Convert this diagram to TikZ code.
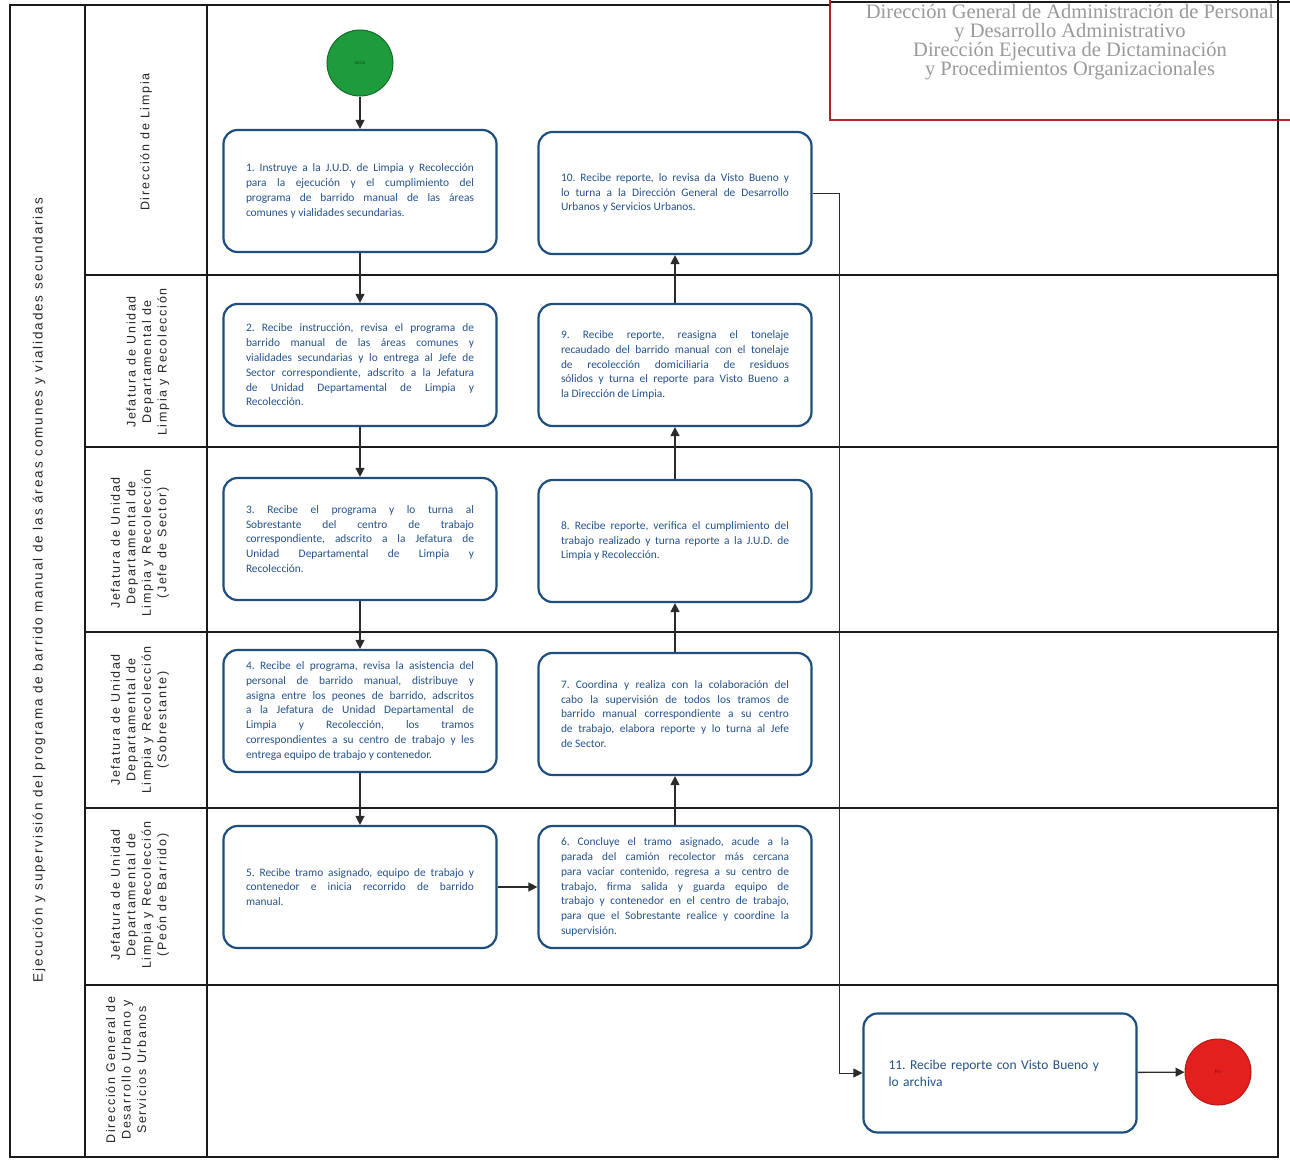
\documentclass[tikz,border=0pt]{standalone}
\usepackage{fontspec}
\setmainfont{Carlito}
\newfontfamily\lanefont[LetterSpace=14]{Liberation Sans}
\newfontfamily\poolfont[LetterSpace=14]{Liberation Sans}
\newfontfamily\headfont{Liberation Serif}
\usetikzlibrary{arrows.meta}
\definecolor{boxline}{HTML}{1D4E7E}
\definecolor{boxtext}{HTML}{24528A}
\definecolor{arrowc}{HTML}{2B2B2B}
\definecolor{framec}{HTML}{1A1A1A}
\definecolor{headred}{HTML}{B0202A}
\definecolor{headtext}{HTML}{9A9A9A}
\definecolor{startg}{HTML}{1E9B3C}
\definecolor{endr}{HTML}{E3201E}
\hyphenpenalty=10000
\exhyphenpenalty=10000
\tolerance=9999
\hbadness=10000
\frenchspacing
\newcommand{\lb}{\linebreak}
\begin{document}
\begin{tikzpicture}[x=1pt,y=-1pt,
  proc/.style={draw=boxline, line width=2.2pt, rounded corners=14pt, fill=white,
    minimum width=273pt, minimum height=122pt, text width=228pt, align=justify,
    font=\fontsize{11.4}{14.8}\selectfont, text=boxtext, inner sep=0pt},
  lanelbl/.style={rotate=90, align=center, font=\lanefont\fontsize{12.5}{15.5}\selectfont, text=black!85},
  flow/.style={-{Triangle[length=9pt,width=9pt]}, line width=1.3pt, draw=arrowc},
  thinflow/.style={-{Triangle[length=9pt,width=9pt]}, line width=0.8pt, draw=arrowc},
  frame/.style={draw=framec, line width=1.6pt}]
\useasboundingbox (0,0) rectangle (1290,1159);
\fill[white] (0,0) rectangle (1290,1159);

% frame and lanes
\draw[frame] (10,5) rectangle (1278,1157);
\draw[frame] (85,5) -- (85,1157);
\draw[frame] (207,5) -- (207,1157);
\foreach \yy in {275,447,632,808,985} {\draw[frame] (85,\yy) -- (1278,\yy);}

% header box
\fill[white] (830,0) rectangle (1290,120);
\draw[framec, line width=1.4pt] (830,2) -- (1290,2);
\draw[headred, line width=1.4pt] (830,0) -- (830,120) -- (1290,120);
\draw[frame] (1278,0) -- (1278,120);
\node[font=\headfont\fontsize{20.5}{19}\selectfont, text=headtext, align=center] (head) at (1070,42)
  {Dirección General de Administración de Personal\\y Desarrollo Administrativo\\Dirección Ejecutiva de Dictaminación\\y Procedimientos Organizacionales};

% pool title
\node[rotate=90, font=\poolfont\fontsize{13.5}{16}\selectfont, text=black!85] (pool) at (39,590)
  {Ejecución y supervisión del programa de barrido manual de las áreas comunes y vialidades secundarias};

% lane labels
\node[lanelbl] (l1) at (146,142) {Dirección de Limpia};
\node[lanelbl] (l2) at (148,362) {Jefatura de Unidad\\Departamental de\\Limpia y Recolección};
\node[lanelbl] (l3) at (140,543) {Jefatura de Unidad\\Departamental de\\Limpia y Recolección\\(Jefe de Sector)};
\node[lanelbl] (l4) at (140,720) {Jefatura de Unidad\\Departamental de\\Limpia y Recolección\\(Sobrestante)};
\node[lanelbl] (l5) at (140,895) {Jefatura de Unidad\\Departamental de\\Limpia y Recolección\\(Peón de Barrido)};
\node[lanelbl] (l6) at (126,1070) {Dirección General de\\Desarrollo Urbano y\\Servicios Urbanos};

% start / end
\node[circle, minimum size=66pt, inner sep=0pt, fill=startg, draw=startg!70!black, line width=1pt,
  font=\fontsize{5}{6}\selectfont, text=startg!50!black] (start) at (360,63) {Inicio};
\node[circle, minimum size=66pt, inner sep=0pt, fill=endr, draw=endr!80!black, line width=1pt,
  font=\fontsize{5}{6}\selectfont, text=endr!50!black] (fin) at (1218,1072) {Fin};

% process boxes
\node[proc] (b1) at (360,191) {1. Instruye a la J.U.D. de Limpia y Recolección\lb para la ejecución y el cumplimiento del\lb programa de barrido manual de las áreas\lb comunes y vialidades secundarias.};
\node[proc] (b10) at (675,193) {10. Recibe reporte, lo revisa da Visto Bueno y\lb lo turna a la Dirección General de Desarrollo\lb Urbanos y Servicios Urbanos.};
\node[proc] (b2) at (360,365) {2. Recibe instrucción, revisa el programa de\lb barrido manual de las áreas comunes y\lb vialidades secundarias y lo entrega al Jefe de\lb Sector correspondiente, adscrito a la Jefatura\lb de Unidad Departamental de Limpia y\lb Recolección.};
\node[proc] (b9) at (675,365) {9. Recibe reporte, reasigna el tonelaje\lb recaudado del barrido manual con el tonelaje\lb de recolección domiciliaria de residuos\lb sólidos y turna el reporte para Visto Bueno a\lb la Dirección de Limpia.};
\node[proc] (b3) at (360,539) {3. Recibe el programa y lo turna al\lb Sobrestante del centro de trabajo\lb correspondiente, adscrito a la Jefatura de\lb Unidad Departamental de Limpia y\lb Recolección.};
\node[proc] (b8) at (675,541) {8. Recibe reporte, verifica el cumplimiento del\lb trabajo realizado y turna reporte a la J.U.D. de\lb Limpia y Recolección.};
\node[proc] (b4) at (360,711) {4. Recibe el programa, revisa la asistencia del\lb personal de barrido manual, distribuye y\lb asigna entre los peones de barrido, adscritos\lb a la Jefatura de Unidad Departamental de\lb Limpia y Recolección, los tramos\lb correspondientes a su centro de trabajo y les\lb entrega equipo de trabajo y contenedor.};
\node[proc] (b7) at (675,714) {7. Coordina y realiza con la colaboración del\lb cabo la supervisión de todos los tramos de\lb barrido manual correspondiente a su centro\lb de trabajo, elabora reporte y lo turna al Jefe\lb de Sector.};
\node[proc] (b5) at (360,887) {5. Recibe tramo asignado, equipo de trabajo y\lb contenedor e inicia recorrido de barrido\lb manual.};
\node[proc] (b6) at (675,887) {6. Concluye el tramo asignado, acude a la\lb parada del camión recolector más cercana\lb para vaciar contenido, regresa a su centro de\lb trabajo, firma salida y guarda equipo de\lb trabajo y contenedor en el centro de trabajo,\lb para que el Sobrestante realice y coordine la\lb supervisión.};
\node[proc, minimum height=119pt, text width=223pt, align=left, font=\fontsize{13.5}{17}\selectfont] (b11) at (1000,1073) {11. Recibe reporte con Visto Bueno y\\lo archiva};

% connectors
\draw[flow] (start) -- (b1);
\draw[flow] (b1) -- (b2);
\draw[flow] (b2) -- (b3);
\draw[flow] (b3) -- (b4);
\draw[flow] (b4) -- (b5);
\draw[flow] (b5) -- (b6);
\draw[flow] (b6) -- (b7);
\draw[flow] (b7) -- (b8);
\draw[flow] (b8) -- (b9);
\draw[flow] (b9) -- (b10);
\draw[thinflow] (b10.east) -- ++(27,0) |- (b11.west);
\draw[flow] (b11) -- (fin);
\end{tikzpicture}
\end{document}
